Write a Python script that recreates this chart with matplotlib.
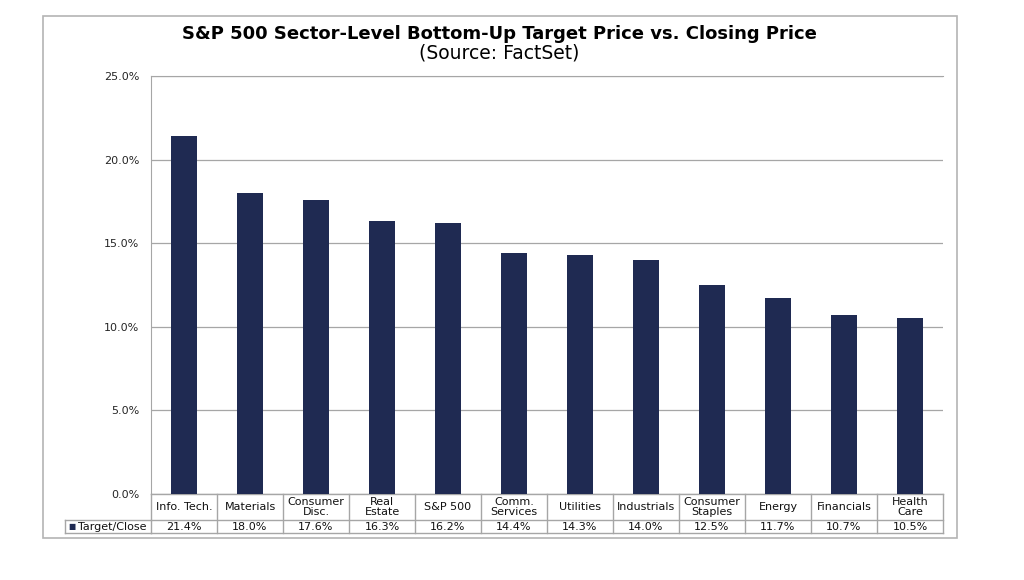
import matplotlib.pyplot as plt
import matplotlib.transforms as mtransforms
from matplotlib.patches import Rectangle

# data
sectors = ["Info. Tech.", "Materials", "Consumer\nDisc.", "Real\nEstate", "S&P 500",
           "Comm.\nServices", "Utilities", "Industrials", "Consumer\nStaples",
           "Energy", "Financials", "Health\nCare"]
target_close = [21.4, 18.0, 17.6, 16.3, 16.2, 14.4, 14.3, 14.0, 12.5, 11.7, 10.7, 10.5]
series_name = "Target/Close"
y_ticks = [0, 5, 10, 15, 20, 25]

plt.rcParams['font.family'] = ['DejaVu Sans']

bar_color = "#1F2A52"
grid_color = "#A6A6A6"
line_color = "#A6A6A6"

W, H = 1024, 580
fig = plt.figure(figsize=(W / 100, H / 100), dpi=100)

# outer chart border
fig.patches.append(Rectangle((43 / W, 1 - 538 / H), (957 - 43) / W, (538 - 16) / H,
                             transform=fig.transFigure, fill=False,
                             edgecolor="#B4B4B4", linewidth=1.2))

left, right, top, bottom = 151, 943, 76, 494
ax = fig.add_axes([left / W, 1 - bottom / H, (right - left) / W, (bottom - top) / H])

n = len(sectors)
x = list(range(n))
ax.bar(x, target_close, width=0.4, color=bar_color, zorder=3)
ax.set_xlim(-0.5, n - 0.5)
ax.set_ylim(0, 25)
ax.set_yticks(y_ticks)
ax.set_yticklabels([f"{v:.1f}%" for v in y_ticks], fontsize=8, color="#262626")
ax.yaxis.grid(True, color=grid_color, linewidth=0.9, zorder=0)
ax.set_xticks([])
ax.tick_params(axis='y', length=0, pad=8.5)
for s in ["right", "bottom"]:
    ax.spines[s].set_visible(False)
ax.spines["left"].set_color(line_color)
ax.spines["top"].set_color(line_color)

# data table under the axis
ph = bottom - top
r1 = -(520 - bottom) / ph
r2 = -(533 - bottom) / ph
tr = mtransforms.blended_transform_factory(ax.transData, ax.transAxes)
kw = dict(color=line_color, linewidth=1.0, clip_on=False, transform=tr)
ax.plot([-0.5, n - 0.5], [0, 0], **kw)
ax.plot([-0.5, n - 0.5], [r1, r1], **kw)
ax.plot([-0.5, n - 0.5], [r2, r2], **kw)
for i in range(n + 1):
    ax.plot([i - 0.5, i - 0.5], [0, r2], **kw)
for i in range(n):
    ax.text(i, r1 / 2, sectors[i], transform=tr, ha="center", va="center",
            fontsize=8, linespacing=1.05, color="#111111")
    ax.text(i, (r1 + r2) / 2, f"{target_close[i]:.1f}%", transform=tr,
            ha="center", va="center", fontsize=8, color="#111111")

# legend key cell
lx = (65 - left) / (right - left) * n - 0.5
ax.plot([lx, -0.5], [r1, r1], **kw)
ax.plot([lx, -0.5], [r2, r2], **kw)
ax.plot([lx, lx], [r1, r2], **kw)
ax.text(lx + 0.055, (r1 + r2) / 2, "\u25A0", transform=tr, ha="left", va="center",
        fontsize=5.5, color=bar_color)
ax.text(lx + 0.19, (r1 + r2) / 2, series_name, transform=tr, ha="left", va="center",
        fontsize=8, color="#111111")

fig.text(499 / W, 1 - 34 / H, "S&P 500 Sector-Level Bottom-Up Target Price vs. Closing Price",
         ha="center", va="center", fontsize=13, fontweight="bold")
fig.text(499 / W, 1 - 53 / H, "(Source: FactSet)", ha="center", va="center", fontsize=13.5)

fig.savefig("out.png", dpi=100, facecolor="white")
